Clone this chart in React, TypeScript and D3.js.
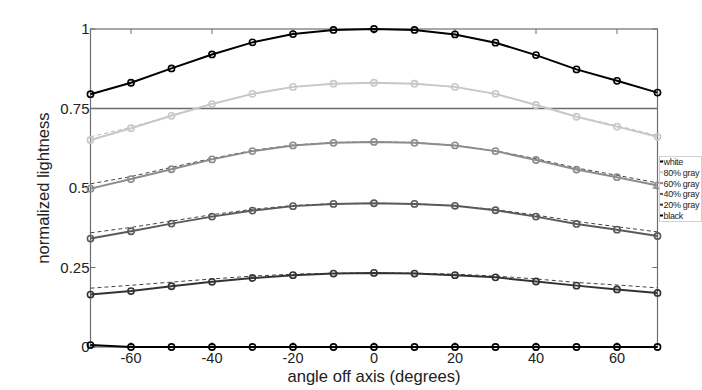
import React from "react";
import * as d3 from "d3";

const angles = [-70, -60, -50, -40, -30, -20, -10, 0, 10, 20, 30, 40, 50, 60, 70];
const seriesNames = ["white", "80% gray", "60% gray", "40% gray", "20% gray", "black"];
const seriesColors = ["#000000", "#c8c8c8", "#8c8c8c", "#5a5a5a", "#333333", "#000000"];

const whiteVals = [0.795, 0.831, 0.876, 0.92, 0.958, 0.984, 0.997, 1.0, 0.997, 0.983, 0.957, 0.918, 0.873, 0.837, 0.8];
const gray80Vals = [0.651, 0.688, 0.727, 0.764, 0.796, 0.818, 0.828, 0.831, 0.828, 0.818, 0.796, 0.761, 0.724, 0.693, 0.661];
const gray60Vals = [0.498, 0.528, 0.559, 0.59, 0.616, 0.634, 0.642, 0.645, 0.642, 0.634, 0.616, 0.588, 0.558, 0.534, 0.508];
const gray40Vals = [0.341, 0.364, 0.388, 0.41, 0.429, 0.443, 0.45, 0.452, 0.45, 0.444, 0.43, 0.41, 0.387, 0.369, 0.349];
const gray20Vals = [0.165, 0.176, 0.191, 0.205, 0.217, 0.226, 0.231, 0.233, 0.231, 0.226, 0.219, 0.206, 0.193, 0.181, 0.17];
const blackVals = [0.006, 0.0, 0.0, 0.0, 0.0, 0.0, 0.0, 0.0, 0.0, 0.0, 0.0, 0.0, 0.0, 0.0, 0.0];

// expected (dashed) curves
const gray80Expected = [0.661, 0.691, 0.728, 0.765, 0.796, 0.818, 0.828, 0.831, 0.828, 0.817, 0.795, 0.763, 0.725, 0.696, 0.665];
const gray60Expected = [0.513, 0.536, 0.565, 0.593, 0.618, 0.635, 0.643, 0.645, 0.643, 0.634, 0.617, 0.592, 0.563, 0.54, 0.516];
const gray40Expected = [0.359, 0.376, 0.396, 0.416, 0.433, 0.445, 0.451, 0.452, 0.451, 0.444, 0.432, 0.415, 0.395, 0.378, 0.362];
const gray20Expected = [0.185, 0.194, 0.204, 0.214, 0.223, 0.229, 0.232, 0.233, 0.232, 0.229, 0.223, 0.214, 0.203, 0.195, 0.186];

const xTicks = [-60, -40, -20, 0, 20, 40, 60];
const yTicks = [0, 0.25, 0.5, 0.75, 1];
const yTickLabels = ["0", "0.25", "0.5", "0.75", "1"];

const series = [whiteVals, gray80Vals, gray60Vals, gray40Vals, gray20Vals, blackVals];
const expected = [
  { vals: gray80Expected, color: seriesColors[1] },
  { vals: gray60Expected, color: seriesColors[2] },
  { vals: gray40Expected, color: seriesColors[3] },
  { vals: gray20Expected, color: seriesColors[4] },
];

export default function App() {
  const W = 702, H = 390;
  const left = 90.5, right = 657.5, top = 29, bottom = 347;
  const x = d3.scaleLinear().domain([-70, 70]).range([left, right]);
  const y = d3.scaleLinear().domain([0, 1]).range([bottom, top]);
  const line = d3.line<number>().x((_, i) => x(angles[i])).y((d) => y(d));
  const font = "'Liberation Sans', Arial, sans-serif";
  const axisColor = "#6e6e6e";
  const tl = 5;

  return (
    <svg width={W} height={H} style={{ position: "absolute", left: 0, top: 0, background: "#fff" }} fontFamily={font}>
      {/* 0.75 reference line */}
      <line x1={left} x2={right} y1={y(0.75)} y2={y(0.75)} stroke="#6a6a6a" strokeWidth={1.5} />
      {/* box */}
      <rect x={left} y={top} width={right - left} height={bottom - top} fill="none" stroke={axisColor} strokeWidth={1.2} />
      {/* ticks */}
      {xTicks.map((t) => (
        <g key={"xt" + t}>
          <line x1={x(t)} x2={x(t)} y1={bottom} y2={bottom - tl} stroke={axisColor} />
          <line x1={x(t)} x2={x(t)} y1={top} y2={top + tl} stroke={axisColor} />
          <text x={x(t)} y={bottom + 16} textAnchor="middle" fontSize={14.5} fill="#222">{t}</text>
        </g>
      ))}
      {yTicks.map((t, i) => (
        <g key={"yt" + t}>
          <line x1={left} x2={left + tl} y1={y(t)} y2={y(t)} stroke={axisColor} />
          <line x1={right} x2={right - tl} y1={y(t)} y2={y(t)} stroke={axisColor} />
          <text x={left - 1} y={y(t) + 5} textAnchor="end" fontSize={15} fill="#222">{yTickLabels[i]}</text>
        </g>
      ))}
      {/* dashed expected curves */}
      {expected.map((e, i) => (
        <path key={"e" + i} d={line(e.vals) || ""} fill="none" stroke={i === 0 ? "#bbbbbb" : "#444"} strokeWidth={1} strokeDasharray="4,3" />
      ))}
      {/* series */}
      {series.map((vals, si) => (
        <g key={"s" + si}>
          <path d={line(vals) || ""} fill="none" stroke={seriesColors[si]} strokeWidth={2} />
          {vals.map((v, i) => (
            <circle key={i} cx={x(angles[i])} cy={y(v)} r={3.1} fill="none" stroke={seriesColors[si]} strokeWidth={1.6} />
          ))}
        </g>
      ))}
      {/* axis labels */}
      <text x={x(0)} y={382} textAnchor="middle" fontSize={16.6} fill="#222">angle off axis (degrees)</text>
      <text transform={`translate(49, ${(top + bottom) / 2}) rotate(-90)`} textAnchor="middle" fontSize={16.6} fill="#222">normalized lightness</text>
      {/* legend */}
      <g>
        <rect x={659.5} y={156.5} width={42} height={65} fill="#fff" stroke="#d0d0d0" strokeWidth={1} />
        {seriesNames.map((n, i) => (
          <g key={"l" + i}>
            <line x1={660} x2={663} y1={161.5 + i * 10.8} y2={161.5 + i * 10.8} stroke={seriesColors[i]} strokeWidth={2} />
            <text x={663.5} y={165 + i * 10.8} fontSize={9} letterSpacing={-0.3} fill="#222">{n}</text>
          </g>
        ))}
      </g>
    </svg>
  );
}
